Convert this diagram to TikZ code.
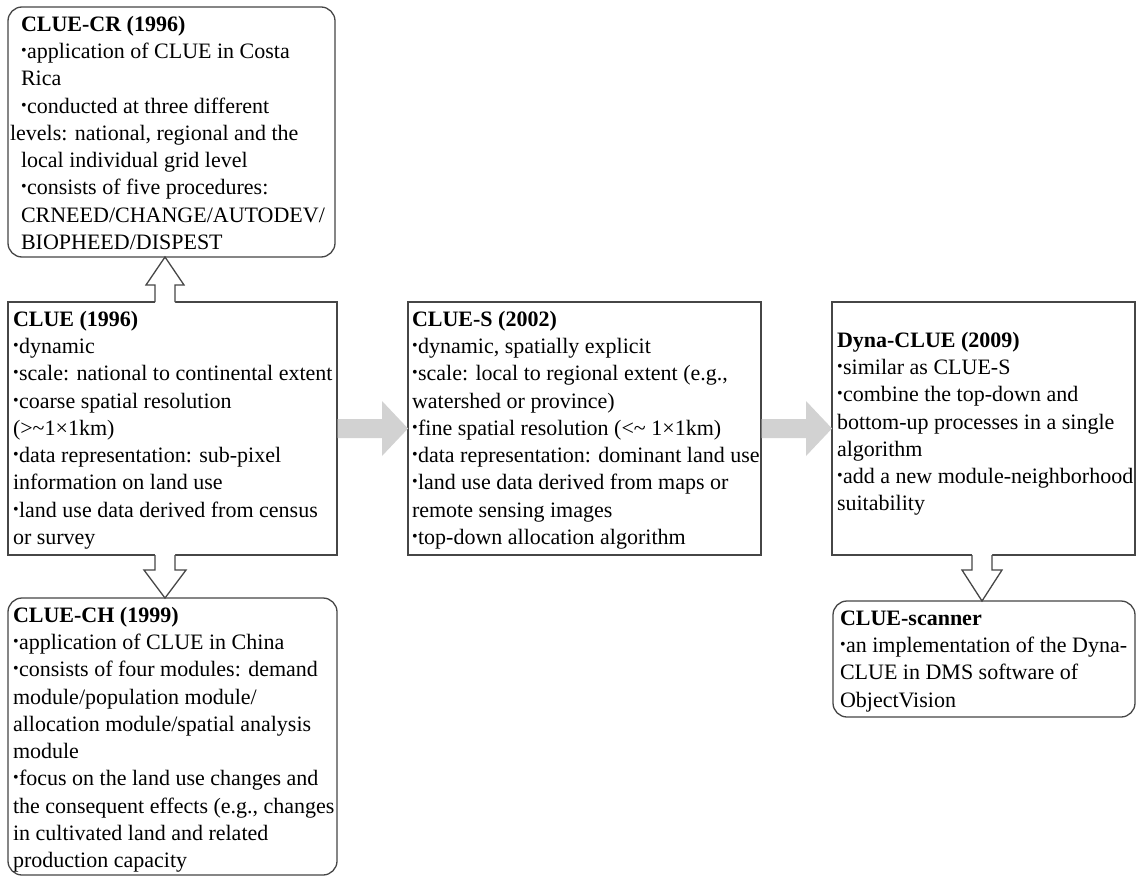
\documentclass[tikz,border=0pt]{standalone}
\usepackage{fontspec}
\setmainfont{Liberation Serif}
\usetikzlibrary{calc}
\definecolor{linegray}{RGB}{70,70,70}
\definecolor{arrowgray}{RGB}{210,210,210}
\newcommand{\bu}{\raisebox{3pt}{\fontsize{16}{16}\selectfont •}\hspace{0.5pt}}
\newcommand{\ttl}[1]{\strut\textbf{#1}}
\begin{document}
\begin{tikzpicture}[x=1pt,y=-1pt,
  box/.style={draw=linegray, line width=1.3pt, fill=white, inner sep=0pt, outer sep=0pt, anchor=north west},
  rbox/.style={box, rounded corners=14pt},
  txt/.style={anchor=north west, align=left, inner sep=0pt, outer sep=0pt, font=\fontsize{22}{27.3}\selectfont},
  hollow/.style={draw=linegray, line width=1.3pt, line join=miter},
  flow/.style={fill=arrowgray}]
\useasboundingbox[fill=white] (0,0) rectangle (1137,877);

% boxes
\node[rbox, minimum width=327pt, minimum height=250pt] (cr) at (8,7) {};
\node[box,  minimum width=329pt, minimum height=253pt] (clue) at (8,302) {};
\node[rbox, minimum width=329pt, minimum height=277pt] (ch) at (8,598) {};
\node[box,  minimum width=353pt, minimum height=253pt] (s) at (408,302) {};
\node[box,  minimum width=303pt, minimum height=253pt] (dyna) at (832,302) {};
\node[rbox, minimum width=302pt, minimum height=116pt] (scan) at (833,601) {};

% texts
\node[txt] (crt) at ($(cr.north west)+(13,5)$) {\ttl{CLUE-CR (1996)}\\
\bu application of CLUE in Costa\\
Rica\\
\bu conducted at three different\\
\hspace*{-11pt}levels: national, regional and the\\
local individual grid level\\
\bu consists of five procedures:\\
CRNEED/CHANGE/AUTODEV/\\
BIOPHEED/DISPEST};

\node[txt] (cluet) at ($(clue.north west)+(5,5)$) {\ttl{CLUE (1996)}\\
\bu dynamic\\
\bu scale: national to continental extent\\
\bu coarse spatial resolution\\
(>\textasciitilde1×1km)\\
\bu data representation: sub-pixel\\
information on land use\\
\bu land use data derived from census\\
or survey};

\node[txt] (cht) at ($(ch.north west)+(5,5)$) {\ttl{CLUE-CH (1999)}\\
\bu application of CLUE in China\\
\bu consists of four modules: demand\\
module/population module/\\
allocation module/spatial analysis\\
module\\
\bu focus on the land use changes and\\
the consequent effects (e.g., changes\\
in cultivated land and related\\
production capacity};

\node[txt] (st) at ($(s.north west)+(4,5)$) {\ttl{CLUE-S (2002)}\\
\bu dynamic, spatially explicit\\
\bu scale: local to regional extent (e.g.,\\
watershed or province)\\
\bu fine spatial resolution (<\textasciitilde{} 1×1km)\\
\bu data representation: dominant land use\\
\bu land use data derived from maps or\\
remote sensing images\\
\bu top-down allocation algorithm};

\node[txt] (dynat) at ($(dyna.north west)+(5,26)$) {\ttl{Dyna-CLUE (2009)}\\
\bu similar as CLUE-S\\
\bu combine the top-down and\\
bottom-up processes in a single\\
algorithm\\
\bu add a new module-neighborhood\\
suitability};

\node[txt] (scant) at ($(scan.north west)+(7,5)$) {\ttl{CLUE-scanner}\\
\bu an implementation of the Dyna-\\
CLUE in DMS software of\\
ObjectVision};

% hollow arrow CLUE -> CLUE-CR (up)
\coordinate (u1) at ($(cr.south west)+(157,0)$);
\coordinate (u2) at ($(clue.north west)+(157,0)$);
\fill[white] ($(u2)+(10,1)$) -- ($(u2)+(10,-17)$) -- ($(u2)+(19,-17)$) -- (u1) -- ($(u2)+(-19,-17)$) -- ($(u2)+(-10,-17)$) -- ($(u2)+(-10,1)$) -- cycle;
\draw[hollow] ($(u2)+(10,0)$) -- ($(u2)+(10,-17)$) -- ($(u2)+(19,-17)$) -- (u1) -- ($(u2)+(-19,-17)$) -- ($(u2)+(-10,-17)$) -- ($(u2)+(-10,0)$);

% hollow arrow CLUE -> CLUE-CH (down)
\coordinate (d1) at ($(ch.north west)+(157,0)$);
\coordinate (d2) at ($(clue.south west)+(157,0)$);
\fill[white] ($(d2)+(-10,-1)$) -- ($(d2)+(-10,15)$) -- ($(d2)+(-21,15)$) -- (d1) -- ($(d2)+(21,15)$) -- ($(d2)+(10,15)$) -- ($(d2)+(10,-1)$) -- cycle;
\draw[hollow] ($(d2)+(-10,0)$) -- ($(d2)+(-10,15)$) -- ($(d2)+(-21,15)$) -- (d1) -- ($(d2)+(21,15)$) -- ($(d2)+(10,15)$) -- ($(d2)+(10,0)$);

% hollow arrow Dyna-CLUE -> CLUE-scanner (down)
\coordinate (e2) at ($(dyna.south)+(-1.5,0)$);
\coordinate (e1) at (e2 |- scan.north);
\fill[white] ($(e2)+(-10,-1)$) -- ($(e2)+(-10,15)$) -- ($(e2)+(-20,15)$) -- (e1) -- ($(e2)+(20,15)$) -- ($(e2)+(10,15)$) -- ($(e2)+(10,-1)$) -- cycle;
\draw[hollow] ($(e2)+(-10,0)$) -- ($(e2)+(-10,15)$) -- ($(e2)+(-20,15)$) -- (e1) -- ($(e2)+(20,15)$) -- ($(e2)+(10,15)$) -- ($(e2)+(10,0)$);

% gray block arrows
\fill[flow] ($(clue.east)+(0.7,-9.5)$) -- ($(s.west)+(-26,-9.5)$) -- ($(s.west)+(-26,-27.5)$) -- (s.west) -- ($(s.west)+(-26,27.5)$) -- ($(s.west)+(-26,9.5)$) -- ($(clue.east)+(0.7,9.5)$) -- cycle;
\fill[flow] ($(s.east)+(0.7,-9.5)$) -- ($(dyna.west)+(-26,-9.5)$) -- ($(dyna.west)+(-26,-27.5)$) -- (dyna.west) -- ($(dyna.west)+(-26,27.5)$) -- ($(dyna.west)+(-26,9.5)$) -- ($(s.east)+(0.7,9.5)$) -- cycle;
\end{tikzpicture}
\end{document}
